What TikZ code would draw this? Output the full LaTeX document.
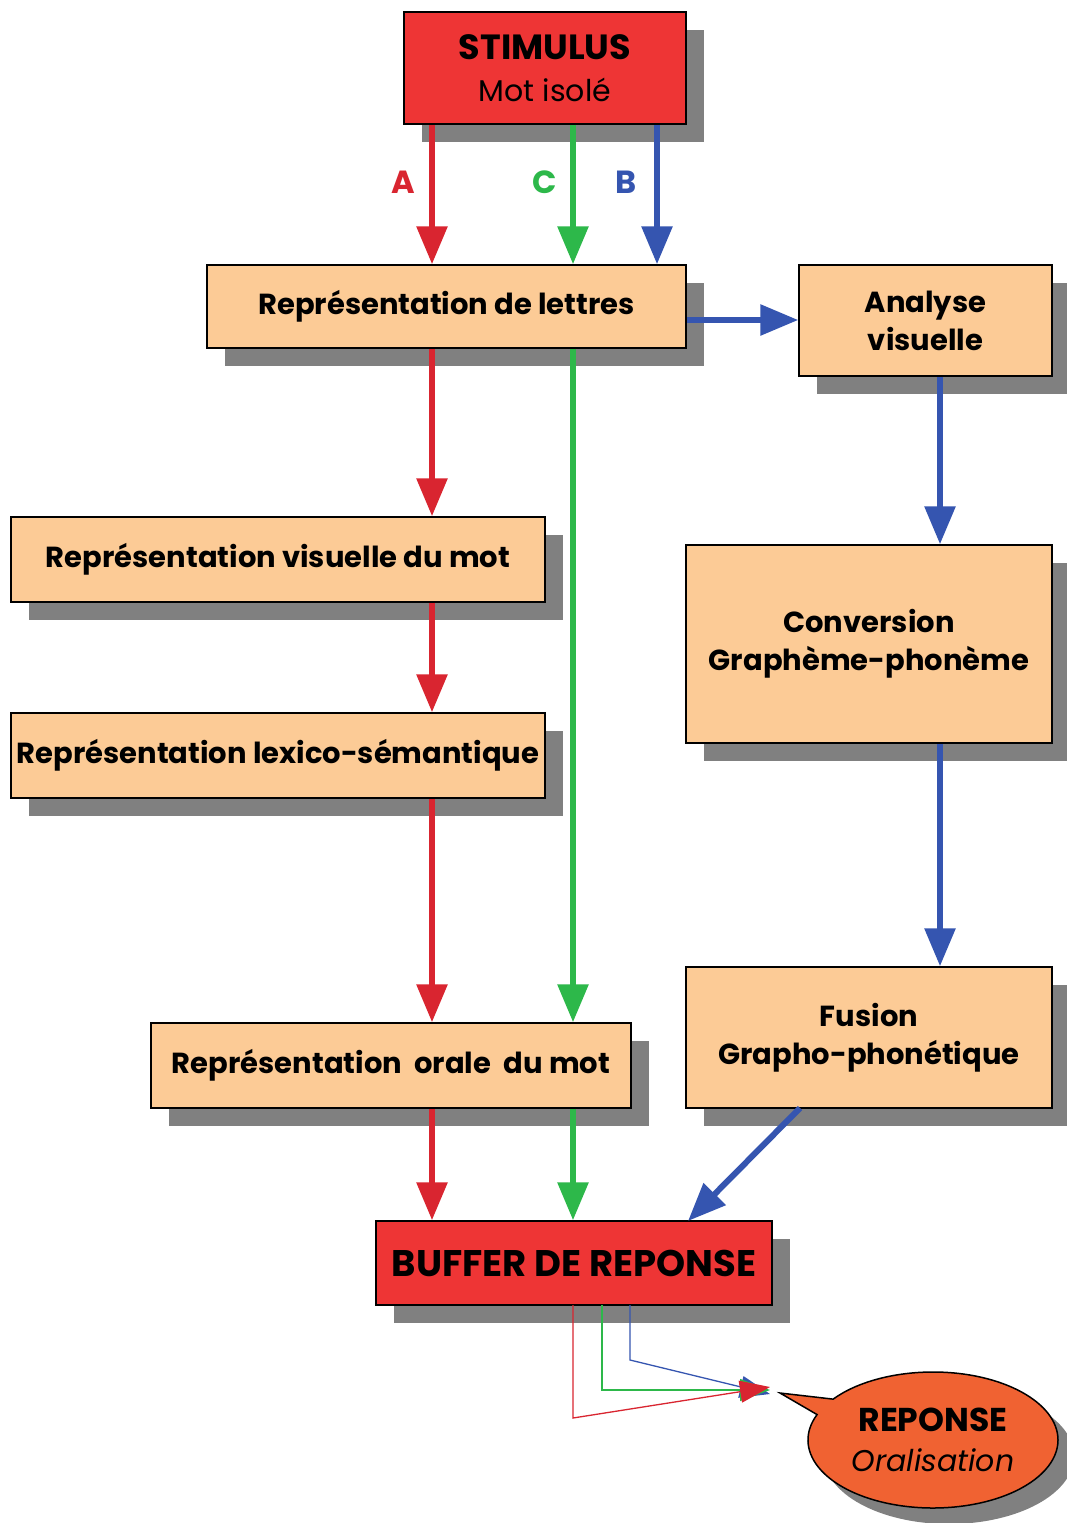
\documentclass[tikz,border=0pt]{standalone}
\usepackage{fontspec}
\setmainfont{Poppins}
\usetikzlibrary{arrows.meta,shadows,shapes.callouts,shapes.geometric}
\definecolor{peach}{HTML}{FCCB96}
\definecolor{boxred}{HTML}{EE3535}
\definecolor{shadowgray}{HTML}{808080}
\definecolor{ared}{HTML}{D92530}
\definecolor{agreen}{HTML}{2DB84A}
\definecolor{ablue}{HTML}{3555B0}
\definecolor{bubble}{HTML}{F06232}
\tikzset{
  x=1pt,y=-1pt,
  shd/.style={drop shadow={shadow xshift=18pt,shadow yshift=-18pt,fill=shadowgray,opacity=1}},
  box/.style={draw=black,line width=1.5pt,fill=peach,shd,inner sep=0pt,align=center,
    font=\fontsize{29}{38}\selectfont\bfseries},
  redbox/.style={draw=black,line width=1.5pt,fill=boxred,shd,inner sep=0pt,align=center},
  flow/.style={line width=6pt,-{Triangle[length=38pt,width=30pt]}},
  thin/.style={line width=1.3pt,-{Triangle[length=30pt,width=22pt]}},
  lab/.style={font=\fontsize{32}{34}\selectfont\bfseries},
}
\begin{document}
\begin{tikzpicture}
\path[use as bounding box,fill=white] (0,0) rectangle (1067,1523);
% nodes
\node[redbox,minimum width=282pt,minimum height=112pt,font=\fontsize{30}{42}\selectfont] (stim) at (545,68)
  {{\fontsize{35}{42}\selectfont\bfseries STIMULUS}\\{\fontsize{30}{42}\selectfont Mot isolé}};
\node[box,minimum width=479pt,minimum height=83pt] (lettres) at (446.5,306.5) {Représentation de lettres};
\node[box,minimum width=253pt,minimum height=111pt] (analyse) at (925.5,320.5) {Analyse\\visuelle};
\node[box,minimum width=534pt,minimum height=85pt] (visuel) at (278,559.5) {Représentation visuelle du mot};
\node[box,minimum width=534pt,minimum height=85pt] (lexico) at (278,755.5) {Représentation lexico-sémantique};
\node[box,minimum width=366pt,minimum height=198pt] (conv) at (869,644) {Conversion\\Graphème-phonème};
\node[box,minimum width=366pt,minimum height=141pt] (fusion) at (869,1037.5) {Fusion\\Grapho-phonétique};
\node[box,minimum width=480pt,minimum height=85pt] (orale) at (391,1065.5) {Représentation\ \ orale\ \ du mot};
\node[redbox,minimum width=396pt,minimum height=84pt,font=\fontsize{37}{40}\selectfont\bfseries] (buffer) at (574,1263) {BUFFER DE REPONSE};
% bubble
\coordinate (tip) at (780,1393);
\fill[shadowgray] (949,1456) ellipse [x radius=125pt, y radius=68pt];
\node[ellipse callout,draw=black,line width=1.5pt,fill=bubble,minimum width=250pt,minimum height=136pt,
  callout absolute pointer={(tip)},align=center,inner sep=0pt,font=\fontsize{30}{40}\selectfont] (rep) at (933,1440)
  {{\fontsize{33}{40}\selectfont\bfseries REPONSE}\\{\fontsize{30}{40}\selectfont\itshape Oralisation}};
% x positions
\coordinate (xa) at (432,0);
\coordinate (xc) at (573,0);
\coordinate (xb) at (657,0);
\coordinate (xv) at (940,0);
% labels
\node[lab,text=ared] (la) at (403,182) {A};
\node[lab,text=agreen] (lc) at (545,182) {C};
\node[lab,text=ablue] (lb) at (626,182) {B};
% top arrows
\draw[flow,ared] (stim.south -| xa) -- (lettres.north -| xa);
\draw[flow,agreen] (stim.south -| xc) -- (lettres.north -| xc);
\draw[flow,ablue] (stim.south -| xb) -- (lettres.north -| xb);
% route A
\draw[flow,ared] (lettres.south -| xa) -- (visuel.north -| xa);
\draw[flow,ared] (visuel.south -| xa) -- (lexico.north -| xa);
\draw[flow,ared] (lexico.south -| xa) -- (orale.north -| xa);
\draw[flow,ared] (orale.south -| xa) -- (buffer.north -| xa);
% route C
\draw[flow,agreen] (lettres.south -| xc) -- (orale.north -| xc);
\draw[flow,agreen] (orale.south -| xc) -- (buffer.north -| xc);
% route B
\draw[flow,ablue] (lettres.east) ++(0,13.5) coordinate (lb1) (lb1) -- (analyse.west |- lb1);
\draw[flow,ablue] (analyse.south -| xv) -- (conv.north -| xv);
\draw[flow,ablue] (conv.south -| xv) -- (fusion.north -| xv);
\coordinate (fs) at (800,1108);
\coordinate (bt) at (688,1221);
\draw[flow,ablue] (fs) -- (bt);
% output lines
\coordinate (r0) at (573,1305); \coordinate (r1) at (573,1418);
\coordinate (g0) at (602,1305); \coordinate (g1) at (602,1390);
\coordinate (b0) at (630,1305); \coordinate (b1) at (630,1360);
\coordinate (end) at (770,1390);
\draw[thin,ablue] (b0) -- (b1) -- ([yshift=-4pt]end);
\draw[thin,agreen] (g0) -- (g1) -- (end);
\draw[thin,ared] (r0) -- (r1) -- ([yshift=3pt]end);
\end{tikzpicture}
\end{document}
